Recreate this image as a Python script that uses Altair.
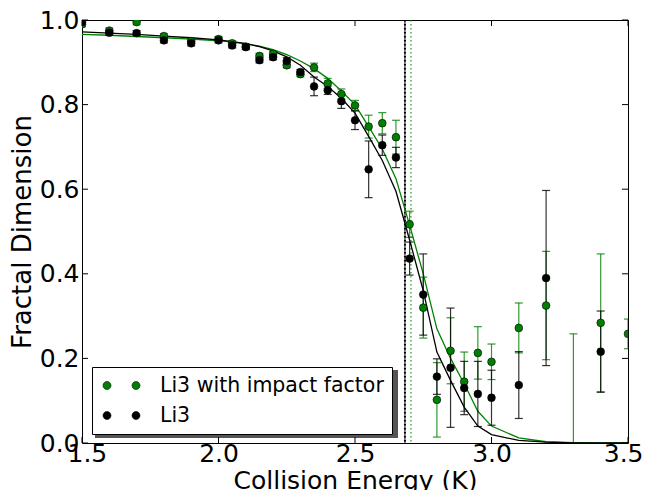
import altair as alt
import pandas as pd

# ---------------- data ----------------
energy = [1.5, 1.6, 1.7, 1.8, 1.9, 2.0, 2.05, 2.1, 2.15, 2.2, 2.25, 2.3, 2.35, 2.4,
          2.45, 2.5, 2.55, 2.6, 2.65, 2.7, 2.75, 2.8, 2.85, 2.9, 2.95, 3.0, 3.1,
          3.2, 3.3, 3.4, 3.5]

li3_impact = [0.99, 0.975, 0.995, 0.962, 0.95, 0.955, 0.945, 0.937, 0.915, 0.92,
              0.893, 0.872, 0.888, 0.85, 0.825, 0.798, 0.748, 0.756, 0.723, 0.517,
              0.32, 0.102, 0.218, 0.145, 0.213, 0.192, 0.272, 0.325, -0.06, 0.284,
              0.258]
li3_impact_err = [0.006, 0.006, 0.006, 0.006, 0.006, 0.006, 0.006, 0.006, 0.006, 0.006,
                  0.006, 0.006, 0.01, 0.012, 0.012, 0.012, 0.027, 0.025, 0.04, 0.031,
                  0.072, 0.088, 0.078, 0.07, 0.062, 0.042, 0.059, 0.128, 0.318, 0.163,
                  0.035]

li3 = [0.995, 0.97, 0.969, 0.952, 0.945, 0.952, 0.94, 0.936, 0.905, 0.912,
       0.903, 0.877, 0.843, 0.834, 0.808, 0.763, 0.647, 0.704, 0.675, 0.436,
       0.351, 0.157, 0.178, 0.13, 0.116, 0.107, 0.137, 0.39, None, 0.216, None]
li3_err = [0.006, 0.006, 0.006, 0.006, 0.006, 0.006, 0.006, 0.006, 0.006, 0.006,
           0.008, 0.006, 0.022, 0.01, 0.017, 0.022, 0.067, 0.024, 0.024, 0.039,
           0.096, 0.042, 0.141, 0.063, 0.077, 0.065, 0.079, 0.207, None, 0.096, None]

fit_impact = [0.966, 0.964, 0.961, 0.958, 0.955, 0.951, 0.948, 0.944, 0.938, 0.93,
              0.918, 0.903, 0.885, 0.862, 0.832, 0.8, 0.748, 0.695, 0.625, 0.515,
              0.4, 0.27, 0.2, 0.14, 0.075, 0.04, 0.012, 0.003, 0.001, 0.0, 0.0]
fit_li3 = [0.972, 0.969, 0.966, 0.962, 0.958, 0.953, 0.949, 0.944, 0.937, 0.927,
           0.913, 0.893, 0.865, 0.843, 0.815, 0.78, 0.725, 0.668, 0.595, 0.48,
           0.36, 0.215, 0.148, 0.085, 0.04, 0.02, 0.006, 0.002, 0.0, 0.0, 0.0]

vline_li3 = [2.683]
vline_impact = [2.705]

x_ticks = [1.5, 2.0, 2.5, 3.0, 3.5]
y_ticks = [0.0, 0.2, 0.4, 0.6, 0.8, 1.0]

series = ["Li3 with impact factor", "Li3"]
colors = ["#008000", "#000000"]

# ---------------- tables ----------------
rows = []
for name, vals, errs in [(series[0], li3_impact, li3_impact_err), (series[1], li3, li3_err)]:
    for xv, yv, ev in zip(energy, vals, errs):
        if yv is None:
            continue
        rows.append({"x": xv, "y": yv, "lo": yv - ev, "hi": yv + ev, "series": name})
pts = pd.DataFrame(rows)

caps = pd.concat([
    pts[["x", "lo", "series"]].rename(columns={"lo": "y"}),
    pts[["x", "hi", "series"]].rename(columns={"hi": "y"}),
], ignore_index=True)

fit = pd.concat([
    pd.DataFrame({"x": energy, "y": fit_impact, "series": series[0]}),
    pd.DataFrame({"x": energy, "y": fit_li3, "series": series[1]}),
], ignore_index=True)

W, H = 546, 423
FONT = "DejaVu Sans"

xscale = alt.Scale(domain=[1.5, 3.5], nice=False, zero=False)
yscale = alt.Scale(domain=[0, 1], nice=False, zero=False)
cscale = alt.Scale(domain=series, range=colors)

x_axis = alt.Axis(values=x_ticks, format=".1f", title="Collision Energy (K)",
                  ticks=False, tickSize=0, domain=False, grid=False, labelPadding=-2,
                  labelFlush=True, labelFlushOffset=15,
                  titleBaseline="alphabetic", titleY=45, titleFontSize=25)
y_axis = alt.Axis(values=y_ticks, format=".1f", title="Fractal Dimension",
                  ticks=False, tickSize=0, domain=False, grid=False, labelPadding=3,
                  titlePadding=4)


def X(field="x"):
    return alt.X(f"{field}:Q", scale=xscale, axis=x_axis)


def Y(field="y"):
    return alt.Y(f"{field}:Q", scale=yscale, axis=y_axis)


legend_symbol = ("M -1.05,0 A 0.4,0.4 0 1,1 -1.85,0 A 0.4,0.4 0 1,1 -1.05,0 Z "
                 "M 1.85,0 A 0.4,0.4 0 1,1 1.05,0 A 0.4,0.4 0 1,1 1.85,0 Z")

one = pd.DataFrame({"a": [0]})

shadow = alt.Chart(one).mark_rect(color="#555555").encode(
    x=alt.value(13), x2=alt.value(316), y=alt.value(350), y2=alt.value(418))

v_black = alt.Chart(pd.DataFrame({"x": vline_li3})).mark_rule(
    color="black", strokeWidth=1).encode(x=X())
v_black_dot = alt.Chart(pd.DataFrame({"x": vline_li3})).mark_rule(
    color="black", strokeWidth=2, strokeDash=[1.5, 2.5]).encode(x=X())
v_green = alt.Chart(pd.DataFrame({"x": vline_impact})).mark_rule(
    color="#008000", strokeWidth=1.5, strokeDash=[1.5, 2.5], opacity=0.7).encode(x=X())

series_layers = []
for s, c in zip(series, colors):
    curve = alt.Chart(fit[fit["series"] == s]).mark_line(
        color=c, strokeWidth=1.3, clip=True).encode(x=X(), y=Y())
    bar = alt.Chart(pts[pts["series"] == s]).mark_rule(
        color=c, strokeWidth=1.2, opacity=0.8, clip=True).encode(
        x=X(), y=Y("lo"), y2="hi:Q")
    cap = alt.Chart(caps[caps["series"] == s]).mark_tick(
        color=c, orient="horizontal", size=8, thickness=1.2, opacity=0.8,
        clip=True).encode(x=X(), y=Y())
    series_layers += [curve, bar, cap]

points = alt.Chart(pts).mark_point(filled=True, shape="circle", size=60, opacity=1,
                                   stroke="black", strokeWidth=0.6, clip=True).encode(
    x=X(), y=Y(),
    color=alt.Color("series:N", scale=cscale, legend=alt.Legend(
        title=None, orient="none", legendX=10, legendY=347, zindex=1,
        fillColor="white", strokeColor="black", padding=8, cornerRadius=0,
        symbolType=legend_symbol, symbolSize=400, symbolStrokeColor="black",
        symbolStrokeWidth=0.6, symbolOffset=11, labelOffset=28, rowPadding=9,
        labelLimit=500, labelFont=FONT, labelFontSize=20.5, labelColor="black")))

xt = pd.DataFrame({"x": x_ticks})
yt = pd.DataFrame({"y": y_ticks})
tick_bottom = alt.Chart(xt).mark_rule(color="black").encode(
    x=X(), y=alt.value(H), y2=alt.value(H - 6))
tick_top = alt.Chart(xt).mark_rule(color="black").encode(
    x=X(), y=alt.value(0), y2=alt.value(6))
tick_left = alt.Chart(yt).mark_rule(color="black").encode(
    y=Y(), x=alt.value(0), x2=alt.value(6))
tick_right = alt.Chart(yt).mark_rule(color="black").encode(
    y=Y(), x=alt.value(W - 6), x2=alt.value(W))

chart = alt.layer(
    shadow, v_black, v_black_dot, v_green, *series_layers, points,
    tick_bottom, tick_top, tick_left, tick_right,
).properties(
    width=W, height=H,
    autosize=alt.AutoSizeParams(type="none"),
    padding={"left": 74, "top": 12, "right": 16, "bottom": 47},
).configure(font=FONT).configure_view(
    stroke="black", strokeWidth=1
).configure_axis(
    labelFont=FONT, labelFontSize=25, labelColor="black",
    titleFont=FONT, titleFontSize=26, titleColor="black", titleFontWeight="normal"
)

chart.save("out.html", embed_options={"renderer": "svg", "actions": False})
